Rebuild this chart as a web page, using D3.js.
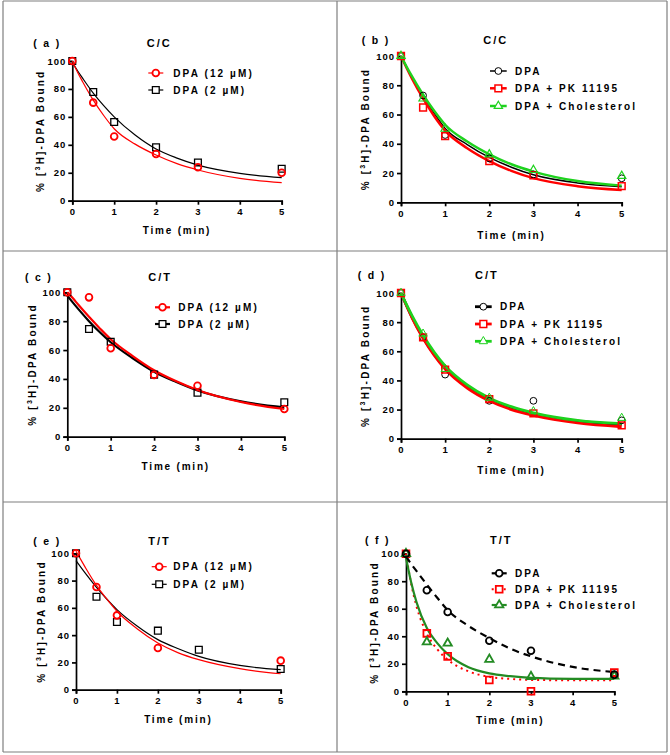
<!DOCTYPE html>
<html>
<head>
<meta charset="utf-8">
<script src="https://cdn.jsdelivr.net/npm/d3@7"></script>
<style>
  body { margin: 0; background: #fff; }
  text { font-family: "Liberation Sans", Arial, sans-serif; font-weight: bold; }
</style>
</head>
<body>
<div id="viz"></div>
<script>
const times = [0, 0.5, 1, 2, 3, 5];
const fitTimes = [0, 0.125, 0.25, 0.5, 0.75, 1, 1.5, 2, 2.5, 3, 4, 5];
const yTicks = [0, 20, 40, 60, 80, 100];
const xTicks = [0, 1, 2, 3, 4, 5];

// (a) C/C
const aDpa12 = [100, 70.2, 46, 33.4, 23.9, 20];
const aDpa2 = [100, 77.8, 56.3, 38.2, 27.4, 22.9];
const aDpa12Fit = [100, 92, 85, 72, 61, 51.5, 40.5, 32.7, 26.5, 22, 16, 12.9];
const aDpa2Fit = [99, 93, 87.5, 77, 68, 60, 47, 37, 30.5, 25.5, 19.6, 16.5];

// (b) C/C
const bDpa = [100, 73, 46, 30, 19, 16.4];
const bPk = [100, 64.8, 45.2, 28.2, 18.4, 11.1];
const bChol = [100, 70.9, 50.2, 32.7, 22, 18];
const bDpaFit = [100, 92.5, 85.5, 72.5, 61, 50.5, 39.5, 30.7, 24, 18.8, 13.2, 10.7];
const bPkFit = [100, 92, 84.5, 71, 59, 49, 37, 28.2, 21.5, 16.5, 11, 8.4];
const bCholFit = [100, 92.8, 86, 73.5, 62.5, 53, 41.5, 32.8, 26, 21, 14.5, 11.4];

// (c) C/T
const cDpa12 = [100, 96.5, 61.2, 42.7, 35.3, 19.2];
const cDpa2 = [100, 74.6, 65.8, 43, 30.5, 23.8];
const cDpa12Fit = [100, 96, 91.5, 83, 75, 67.5, 56, 46, 38.5, 32.3, 24, 19.2];
const cDpa2Fit = [97.7, 93, 88.5, 80, 72.3, 65.4, 54.5, 45, 38, 32, 24.5, 20.3];

// (d) C/T
const dDpa = [100, 69.6, 44, 26, 26, 12.6];
const dPk = [100, 69.6, 47.4, 27.2, 17.4, 9.2];
const dChol = [100, 72, 47.8, 28, 18.8, 14.2];
const dDpaFit = [100, 91.5, 83.5, 69.5, 58, 48.5, 35.5, 26.5, 20.8, 16.8, 12, 9.8];
const dPkFit = [100, 91.3, 83, 69, 57.3, 47.8, 34.8, 26, 20, 16, 10.8, 8.2];
const dCholFit = [100, 92, 84.5, 71, 59.5, 50, 37, 28, 22, 17.8, 12.6, 10.3];

// (e) T/T
const eDpa12 = [100, 75.3, 54.5, 30.6, null, 21.3];
const eDpa2 = [100, 68.2, 49.6, 43.3, 29.3, 15.2];
const eDpa12Fit = [101.5, 95, 88.5, 76.5, 66.5, 57.5, 44.5, 34.2, 27, 22, 15.4, 11.7];
const eDpa2Fit = [94.6, 89.5, 84.5, 75, 66.5, 58.7, 46.5, 36.7, 30, 24.4, 17.8, 14.7];

// (f) T/T
const fDpa = [100, 73.4, 57.6, 36.8, 29.5, 12.1];
const fPk = [100, 42.1, 25.4, 8.2, 0, 13.6];
const fChol = [100, 35.8, 34.9, 23.2, 10.7, 11];
const fDpaFit = [98, 92.5, 87.5, 77.5, 68, 59, 47.5, 38.7, 31, 25.4, 17.7, 14];
const fPkFit = [100, 78, 62, 42, 30.5, 23, 14.5, 10.5, 9, 8.3, 8, 8];
const fCholFit = [97, 79, 65, 46, 35, 27, 17.5, 13, 11, 9.8, 9.1, 9];

const red = '#ff0000';
const green = '#1ed21e';
const darkGreen = '#238b23';

const panels = [
  { tag: '( a )', title: 'C/C', x: [72.3, 281.7], y: [200.7, 61], tagX: 33.3, tagY: 43.3, titleX: 146.7,
    leg: [148.3, 163.3, 173.3], rows: [73, 90], yTitleX: 40.7, xTitleY: 230,
    series: [
      { name: 'DPA (2 µM)', pts: aDpa2, fit: aDpa2Fit, color: '#000', sym: 'square', lw: 1.2, ms: 1.3, row: 1 },
      { name: 'DPA (12 µM)', pts: aDpa12, fit: aDpa12Fit, color: red, sym: 'circle', lw: 1.2, ms: 1.8, row: 0 }
    ] },
  { tag: '( b )', title: 'C/C', x: [401, 621.7], y: [202.3, 56], tagX: 361.7, tagY: 40, titleX: 483.3,
    leg: [490, 506.7, 515], rows: [71, 88.3, 106], yTitleX: 365.7, xTitleY: 235,
    series: [
      { name: 'DPA', pts: bDpa, fit: bDpaFit, color: '#000', sym: 'circle', lw: 1.5, ms: 1, row: 0 },
      { name: 'DPA + PK 11195', pts: bPk, fit: bPkFit, color: red, sym: 'square', lw: 2.5, ms: 1.5, row: 1 },
      { name: 'DPA + Cholesterol', pts: bChol, fit: bCholFit, color: green, sym: 'triangle', lw: 2.5, ms: 1.2, row: 2 }
    ] },
  { tag: '( c )', title: 'C/T', x: [67.3, 284.3], y: [436.7, 292.3], tagX: 25, tagY: 277.3, titleX: 148.3,
    leg: [155, 170, 178.3], rows: [307.3, 324], yTitleX: 32.3, xTitleY: 466.7,
    series: [
      { name: 'DPA (2 µM)', pts: cDpa2, fit: cDpa2Fit, color: '#000', sym: 'square', lw: 2.2, ms: 1.3, row: 1 },
      { name: 'DPA (12 µM)', pts: cDpa12, fit: cDpa12Fit, color: red, sym: 'circle', lw: 2.2, ms: 1.8, row: 0 }
    ] },
  { tag: '( d )', title: 'C/T', x: [401, 621.7], y: [438.7, 293], tagX: 357.7, tagY: 275, titleX: 475,
    leg: [475, 491.7, 500], rows: [306.7, 324, 341.3], yTitleX: 365.7, xTitleY: 470.7,
    series: [
      { name: 'DPA', pts: dDpa, fit: dDpaFit, color: '#000', sym: 'circle', lw: 2.8, ms: 1, row: 0 },
      { name: 'DPA + PK 11195', pts: dPk, fit: dPkFit, color: red, sym: 'square', lw: 2.8, ms: 1.5, row: 1 },
      { name: 'DPA + Cholesterol', pts: dChol, fit: dCholFit, color: green, sym: 'triangle', lw: 2.8, ms: 1, row: 2 }
    ] },
  { tag: '( e )', title: 'T/T', x: [76, 280.7], y: [689.7, 553.3], tagX: 33.3, tagY: 540.7, titleX: 148.3,
    leg: [151.7, 166.7, 173.3], rows: [566.7, 584.3], yTitleX: 41.7, xTitleY: 719,
    series: [
      { name: 'DPA (2 µM)', pts: eDpa2, fit: eDpa2Fit, color: '#000', sym: 'square', lw: 1.2, ms: 1.3, row: 1 },
      { name: 'DPA (12 µM)', pts: eDpa12, fit: eDpa12Fit, color: red, sym: 'circle', lw: 1.2, ms: 1.8, row: 0 }
    ] },
  { tag: '( f )', title: 'T/T', x: [406, 614.3], y: [691.3, 553.7], tagX: 365, tagY: 540, titleX: 490,
    leg: [491.7, 506.7, 515], rows: [573.3, 589.3, 605], yTitleX: 374.3, xTitleY: 720.7,
    series: [
      { name: 'DPA + PK 11195', pts: fPk, fit: fPkFit, color: red, sym: 'square', lw: 2, ms: 1.8, dash: '2,4', row: 1 },
      { name: 'DPA + Cholesterol', pts: fChol, fit: fCholFit, color: darkGreen, sym: 'triangle', lw: 2.2, ms: 1.8, row: 2 },
      { name: 'DPA', pts: fDpa, fit: fDpaFit, color: '#000', sym: 'circle', lw: 2.2, ms: 1.8, dash: '7,5', row: 0 }
    ] }
];

const symbols = {
  circle: d3.symbol(d3.symbolCircle, 36),
  square: d3.symbol(d3.symbolSquare, 46),
  triangle: d3.symbol(d3.symbolTriangle, 30)
};

const svg = d3.select('#viz').append('svg')
  .attr('width', 670)
  .attr('height', 755);

// panel frames
const frame = svg.append('g')
  .attr('stroke', '#7f7f7f')
  .attr('stroke-width', 1.2);
[3, 337, 667].forEach(x => frame.append('line').attr('x1', x).attr('x2', x).attr('y1', 1).attr('y2', 752));
[1, 251, 502, 752].forEach(y => frame.append('line').attr('x1', 3).attr('x2', 667).attr('y1', y).attr('y2', y));

panels.forEach(p => {
  const x = d3.scaleLinear().domain([0, 5]).range(p.x);
  const y = d3.scaleLinear().domain([0, 100]).range(p.y);
  const g = svg.append('g');

  const xaxis = g.append('g')
    .attr('transform', `translate(0, ${p.y[0]})`)
    .call(d3.axisBottom(x).tickValues(xTicks).tickFormat(d3.format('d')).tickSize(4).tickPadding(4));
  const yaxis = g.append('g')
    .attr('transform', `translate(${p.x[0]}, 0)`)
    .call(d3.axisLeft(y).tickValues(yTicks).tickSize(4).tickPadding(2));

  [xaxis, yaxis].forEach(ax => {
    ax.selectAll('path, line').attr('stroke', '#000').attr('stroke-width', 1.7);
    ax.selectAll('text')
      .style('font-size', '9.5px')
      .style('letter-spacing', '1px')
      .attr('fill', '#000');
  });

  g.append('text')
    .attr('x', (p.x[0] + p.x[1]) / 2)
    .attr('y', p.xTitleY + 3.6)
    .style('text-anchor', 'middle')
    .style('font-size', '10px')
    .style('letter-spacing', '1.8px')
    .text('Time (min)');

  const ytitle = g.append('text')
    .attr('transform', `translate(${p.yTitleX + 3.6}, ${(p.y[0] + p.y[1]) / 2}) rotate(-90)`)
    .style('text-anchor', 'middle')
    .style('font-size', '10px')
    .style('letter-spacing', '2.2px');
  ytitle.append('tspan').text('% [');
  ytitle.append('tspan').attr('dy', -4).style('font-size', '7px').text('3');
  ytitle.append('tspan').attr('dy', 4).text('H]-DPA Bound');

  g.append('text')
    .attr('x', p.tagX)
    .attr('y', p.tagY + 3.8)
    .style('font-size', '10.5px')
    .style('letter-spacing', '1.8px')
    .text(p.tag);

  g.append('text')
    .attr('x', p.titleX)
    .attr('y', p.tagY + 3.8)
    .style('font-size', '11px')
    .style('letter-spacing', '2px')
    .text(p.title);

  const line = d3.line()
    .x((d, i) => x(fitTimes[i]))
    .y(d => y(d))
    .curve(d3.curveMonotoneX);

  p.series.forEach(s => {
    g.append('path')
      .attr('d', line(s.fit))
      .attr('fill', 'none')
      .attr('stroke', s.color)
      .attr('stroke-width', s.lw)
      .attr('stroke-dasharray', s.dash || null);
  });

  p.series.forEach(s => {
    g.selectAll(null)
      .data(times.map((t, i) => [t, s.pts[i]]).filter(d => d[1] !== null))
      .enter()
      .append('path')
      .attr('d', symbols[s.sym])
      .attr('transform', d => `translate(${x(d[0])}, ${y(d[1])})`)
      .attr('fill', 'none')
      .attr('stroke', s.color)
      .attr('stroke-width', s.ms);

    // legend entry
    const ly = p.rows[s.row];
    g.append('line')
      .attr('x1', p.leg[0]).attr('x2', p.leg[1])
      .attr('y1', ly).attr('y2', ly)
      .attr('stroke', s.color)
      .attr('stroke-width', s.lw)
      .attr('stroke-dasharray', s.dash === '2,4' ? '2,2' : null);
    g.append('path')
      .attr('d', symbols[s.sym])
      .attr('transform', `translate(${(p.leg[0] + p.leg[1]) / 2}, ${ly})`)
      .attr('fill', 'white')
      .attr('stroke', s.color)
      .attr('stroke-width', s.ms);
    g.append('text')
      .attr('x', p.leg[2])
      .attr('y', ly + 3.6)
      .style('font-size', '10px')
      .style('letter-spacing', '2.1px')
      .text(s.name);
  });
});
</script>
</body>
</html>
